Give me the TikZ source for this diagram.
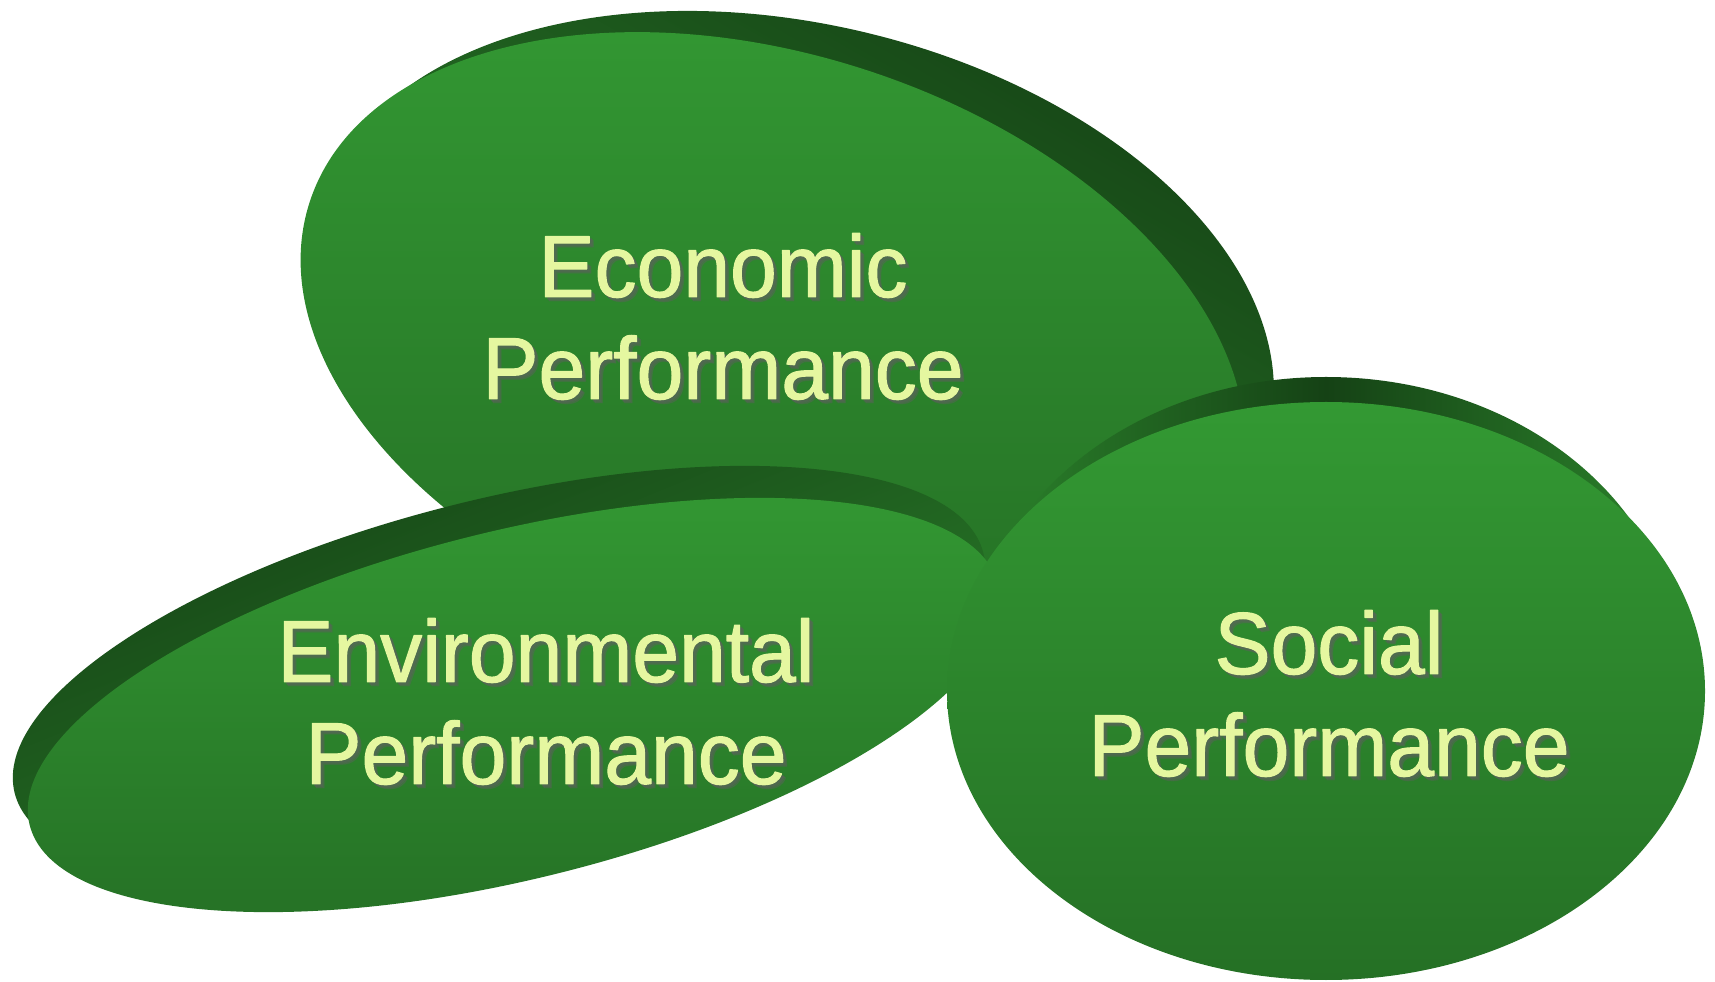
\documentclass[tikz,border=0pt]{standalone}
\usepackage{fontspec}
\setmainfont[FakeStretch=0.955,FakeBold=1.2]{Liberation Sans}
\definecolor{facetop}{RGB}{51,153,51}
\definecolor{facebot}{RGB}{37,112,37}
\definecolor{banddark}{RGB}{21,66,21}
\definecolor{bandlight}{RGB}{44,132,44}
\definecolor{labeltext}{RGB}{229,247,160}
\definecolor{labelshadow}{RGB}{96,96,96}
\begin{document}
\begin{tikzpicture}[x=1bp,y=1bp,line join=round]
	\tikzset{face/.style={top color=facetop,bottom color=facebot},
		lbl/.style={font=\fontsize{88bp}{102bp}\selectfont,align=center,
			inner sep=0pt,anchor=north,text=labeltext},
		lblshadow/.style={lbl,text=labelshadow,text opacity=0.3}}
	\useasboundingbox (0,0) rectangle (1715,981);
	% economic disc
	\shade[top color=banddark,bottom color=bandlight,shading angle=-30]
		(795,660) circle[x radius=487,y radius=297,rotate=-13.3];
	\shade[face] (773,629) circle[x radius=487,y radius=297,rotate=-17.9];
	% environmental disc
	\shade[top color=banddark,bottom color=bandlight,shading angle=22]
		(499,308) circle[x radius=499,y radius=174,rotate=13.9];
	\shade[face] (514,276) circle[x radius=499,y radius=174,rotate=13.9];
	% social disc
	\shade[left color=bandlight,right color=bandlight,middle color=banddark]
		(1326,315) circle[x radius=353,y radius=289];
	\shade[face] (1326,290) circle[x radius=379,y radius=289];
	% labels
	\foreach \d in {2,3,4}{
		\node[lblshadow] (eco-sh\d) at (723+\d,748-\d) {Economic\\Performance};
		\node[lblshadow] (env-sh\d) at (546+\d,363-\d) {Environmental\\Performance};
		\node[lblshadow] (soc-sh\d) at (1329+\d,371-\d) {Social\\Performance};}
	\node[lbl] (eco) at (723,748) {Economic\\Performance};
	\node[lbl] (env) at (546,363) {Environmental\\Performance};
	\node[lbl] (soc) at (1329,371) {Social\\Performance};
\end{tikzpicture}
\end{document}
